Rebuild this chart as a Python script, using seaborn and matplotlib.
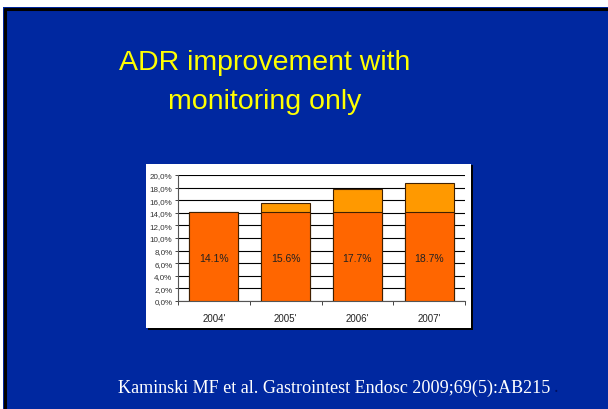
import matplotlib
matplotlib.use("Agg")
import matplotlib.pyplot as plt
import matplotlib.patches as mpatches
from matplotlib.lines import Line2D
import seaborn as sns
import pandas as pd
import numpy as np

# ----------------------------------------
# DATA
# ----------------------------------------
years = ["2004'", "2005'", "2006'", "2007'"]
adr = [14.1, 15.6, 17.7, 18.7]
baseline = [14.1, 14.1, 14.1, 14.1]
labels = ["14.1%", "15.6%", "17.7%", "18.7%"]

title_lines = ["ADR improvement with", "monitoring only"]
citation = "Kaminski MF et al. Gastrointest Endosc 2009;69(5):AB215"

df = pd.DataFrame({"Year": years, "ADR": adr, "Base": baseline})

# ----------------------------------------
# SLIDE
# ----------------------------------------
sns.set_style("white")
W, H = 608, 410
fig = plt.figure(figsize=(W / 100, H / 100), dpi=100, facecolor="white")

def fx(x):
    return x / W

def fy(y):
    return 1 - y / H

blue = "#0028A0"
fig.patches.append(mpatches.Rectangle((fx(3), 0), 1 - fx(3), fy(8), transform=fig.transFigure,
                                      facecolor=blue, edgecolor="none", zorder=0))
fig.lines.append(Line2D([fx(4.5), 1], [fy(9.5), fy(9.5)], transform=fig.transFigure, color="black", lw=2.2))
fig.lines.append(Line2D([fx(4.5), fx(4.5)], [0, fy(9.5)], transform=fig.transFigure, color="black", lw=2.2))

# white chart box with dark shadow edge
fig.patches.append(mpatches.Rectangle((fx(148), fy(331)), fx(325), (331 - 166) / H, transform=fig.transFigure,
                                      facecolor="black", edgecolor="none", zorder=1))
fig.patches.append(mpatches.Rectangle((fx(146), fy(329)), fx(325), (329 - 165) / H, transform=fig.transFigure,
                                      facecolor="white", edgecolor="none", zorder=2))

fig.text(fx(265), fy(70), title_lines[0], ha="center", va="baseline", color="#FFFF00",
         fontsize=20.5, family="Liberation Sans")
fig.text(fx(265), fy(109), title_lines[1], ha="center", va="baseline", color="#FFFF00",
         fontsize=20.5, family="Liberation Sans")
fig.text(fx(118), fy(388), citation, ha="left", va="center", color="white",
         fontsize=13.1, family="Liberation Serif")
fig.text(fx(554), fy(388), ".", ha="left", va="center", color="#001060",
         fontsize=13.1, family="Liberation Serif")

# ----------------------------------------
# CHART
# ----------------------------------------
ax = fig.add_axes([fx(178), fy(302), fx(465 - 178), (302 - 176) / H])
ax.set_facecolor("white")
ax.patch.set_alpha(0)
ax.set_zorder(3)

sns.barplot(data=df, x="Year", y="ADR", color="#FF9900", width=0.68,
            edgecolor="#402000", linewidth=0.8, saturation=1, ax=ax, zorder=3)
sns.barplot(data=df, x="Year", y="Base", color="#FF6600", width=0.68,
            edgecolor="#402000", linewidth=0.8, saturation=1, ax=ax, zorder=4)

for i, lab in enumerate(labels):
    ax.text(i, 6.8, lab, ha="center", va="center", fontsize=7.5,
            family="Liberation Sans", color="#222222", zorder=5)

ax.set_ylim(0, 20)
ax.set_xlim(-0.5, 3.5)
ax.set_yticks(np.arange(0, 20.1, 2))
ax.set_yticklabels([f"{v:.1f}%".replace(".", ",") for v in np.arange(0, 20.1, 2)],
                   fontsize=5.8, family="Liberation Sans", color="#333333")
ax.yaxis.grid(True, color="black", lw=0.8)
ax.set_axisbelow(True)
ax.set_xlabel("")
ax.set_ylabel("")
ax.set_xticks([0, 1, 2, 3])
ax.set_xticklabels(years, fontsize=7, family="Liberation Sans", color="#222222")
ax.tick_params(axis="x", length=0, pad=9)
ax.tick_params(axis="y", length=2.5, width=0.6, pad=1.5, left=True, direction="out")
ax.set_xticks([-0.5, 0.5, 1.5, 2.5, 3.5], minor=True)
ax.tick_params(axis="x", which="minor", length=3, width=0.6, direction="out", bottom=True)
for side in ["top", "right"]:
    ax.spines[side].set_visible(False)
for side in ["left", "bottom"]:
    ax.spines[side].set_color("#555555")
    ax.spines[side].set_linewidth(0.8)

fig.savefig("out.png", dpi=100, facecolor="white")
